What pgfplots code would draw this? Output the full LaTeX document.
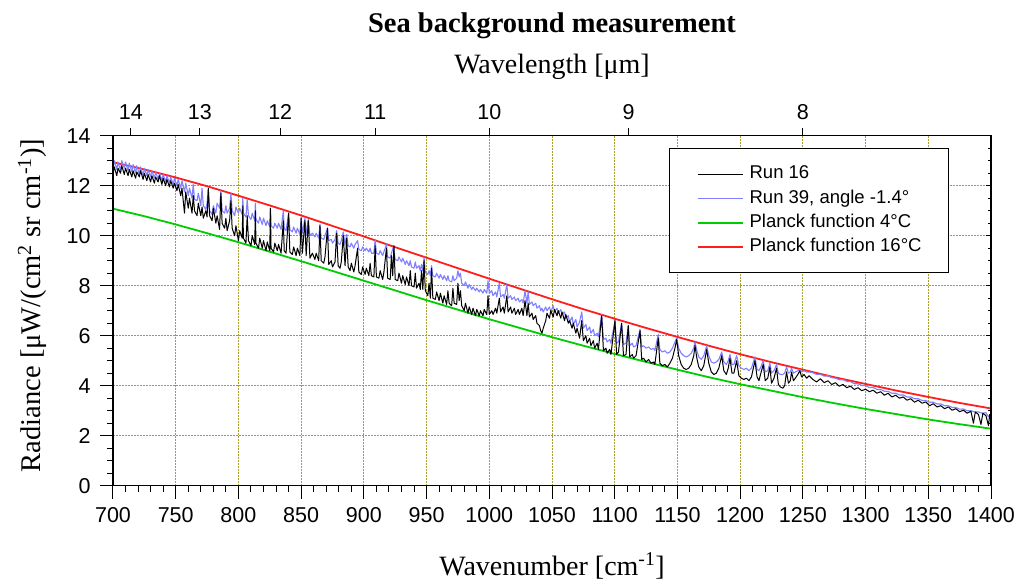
\documentclass[border=0pt]{standalone}
\usepackage{fontspec}
\setmainfont{Liberation Serif}
\newfontfamily\arial{Liberation Sans}
\usepackage{pgfplots}
\usepackage{pgfplotstable}
\pgfplotsset{compat=1.18}

\definecolor{runblue}{RGB}{128,128,255}
\definecolor{planckgreen}{RGB}{0,204,0}
\definecolor{planckred}{RGB}{255,30,30}
\definecolor{gridolive}{RGB}{165,160,45}

% Planck radiance at 4 C and 16 C, uW/(cm^2 sr cm^-1)
\pgfplotstableread{
nu rad
700 11.08
725 10.78
750 10.45
775 10.10
800 9.74
825 9.36
850 8.98
875 8.59
900 8.20
925 7.81
950 7.42
975 7.04
1000 6.66
1025 6.30
1050 5.94
1075 5.60
1100 5.27
1125 4.95
1150 4.64
1175 4.34
1200 4.06
1225 3.80
1250 3.54
1275 3.30
1300 3.07
1325 2.86
1350 2.65
1375 2.46
1400 2.28
}\planckfour

\pgfplotstableread{
nu rad
700 12.94
725 12.65
750 12.33
775 11.98
800 11.60
825 11.21
850 10.81
875 10.39
900 9.97
925 9.54
950 9.12
975 8.70
1000 8.28
1025 7.87
1050 7.46
1075 7.06
1100 6.68
1125 6.31
1150 5.95
1175 5.60
1200 5.26
1225 4.94
1250 4.64
1275 4.34
1300 4.07
1325 3.80
1350 3.55
1375 3.31
1400 3.09
}\planckSixteen

% Run 16
\pgfplotstableread{
nu rad
700 12.45
701 12.75
703 12.4
704 12.7
706 12.5
707 12.8
709 12.45
710 12.7
712 12.4
713 12.65
715 12.35
716 12.6
718 12.3
719 12.55
721 12.35
722 12.6
724 12.25
725 12.5
727 12.2
728 12.45
730 12.15
731 12.4
733 12.1
734 12.35
736 12.15
737 12.4
739 12.05
740 12.3
742 12.0
743 12.25
745 11.95
746 12.2
748 11.9
749 12.1
751 11.8
752 12.05
754 11.6
755 11.9
757 10.9
758 11.75
760 11.1
761 11.5
763 10.9
764 11.6
765 11.0
767 10.8
768 11.3
770 10.8
771 11.15
772 10.7
774 11.0
775 10.75
776 11.9
777 10.8
779 10.6
780 11.1
782 10.5
783 10.8
785 10.25
786 11.7
787 10.5
789 10.3
790 10.7
791 10.2
793 10.6
794 11.4
795 10.3
797 10.0
798 10.4
800 9.8
801 10.2
803 9.9
803.5 11.2
804 9.9
806 9.7
807 10.8
808 9.8
810 9.6
811 10.0
813 9.65
813.5 11.0
814 9.7
816 9.5
817 9.9
819 9.5
820 9.8
822 9.4
823 9.75
825 9.4
825.5 11.1
826 9.5
828 9.35
829 9.7
831 9.4
832 9.65
834 9.3
835.8 10.6
836.5 9.4
838 9.3
840 10.9
841 9.35
843 9.25
844 9.55
846 9.2
847 9.5
849 9.2
850 10.7
851 9.3
853 10.6
854 9.2
855.7 10.6
857 9.1
859 9.3
861 9.05
862 9.3
864 9.0
865 10.4
866 9.0
868 8.9
869 9.15
871 10.3
872 8.85
874 9.0
875 8.75
877 8.95
878.3 10.1
879.5 8.8
881 8.7
882 8.95
883.6 10.0
885 8.8
886.3 9.9
887.5 8.75
889 8.6
890 8.9
892 8.55
893 8.8
895 9.5
896 8.55
898 8.45
899 8.75
901 8.45
902 8.7
904 8.4
905 8.9
906 8.4
908 8.35
909 9.6
910 8.35
912 8.3
913 8.6
915 8.25
916 8.55
918 9.5
919 8.3
921 8.25
922 9.2
923 8.4
924 9.6
925 8.25
927 8.2
928 8.5
930 8.1
931 8.4
933 8.05
934 8.35
936 8.0
937 8.6
938 8.0
940 7.95
941 8.5
942 7.9
944 8.1
945 7.85
946 8.6
947 7.85
948 9.0
949 7.8
951 7.6
952 8.1
953 7.5
954 8.7
955 7.5
957 7.45
958 7.75
960 7.4
961 7.7
963 7.3
964 7.6
966 7.25
967 7.8
968 7.3
970 7.2
971 7.9
972 7.3
974 7.25
975 8.1
976 7.4
977 7.8
978 7.2
980 7.0
981 7.3
983 6.9
984 7.15
986 6.85
987 7.1
989 6.8
990 7.05
992 6.8
993 7.0
995 6.8
996 7.05
998 6.85
999 7.6
1000 6.85
1002 7.0
1003 6.85
1005 7.1
1006 6.9
1008 7.5
1009 6.95
1011 7.15
1012 6.9
1014 7.6
1015 6.95
1017 7.15
1018 6.9
1020 7.1
1021 6.85
1023 7.05
1024 6.85
1026 7.1
1027 6.8
1028.5 7.4
1030 6.8
1031 7.3
1032 6.75
1034 6.9
1035 6.65
1037 6.8
1038 6.5
1040 6.4
1041 6.2
1042 6.1
1043 6.3
1045 6.6
1046 6.9
1048 6.7
1049 7.0
1051 6.75
1052 7.05
1054 6.8
1055 7.0
1057 6.7
1058 6.95
1060 6.6
1061 6.85
1063 6.5
1064 6.6
1066 6.3
1067 6.5
1069 6.1
1070 6.3
1072 5.9
1073.7 6.6
1075 5.8
1077 6.0
1078 5.7
1080 5.9
1081 5.6
1083 5.8
1084 5.5
1086 5.7
1087 5.45
1089.6 6.8
1091 5.4
1093 5.5
1094 5.3
1096 5.45
1097 5.25
1100.2 6.6
1101.5 5.25
1103 5.35
1105.5 6.5
1107 5.2
1109 5.25
1110.8 6.4
1112 5.15
1114 5.25
1115 5.1
1117 5.2
1120.2 6.2
1121.5 5.05
1123 5.1
1125 4.95
1127 5.05
1129 4.9
1131 4.95
1132 4.85
1134.7 5.9
1136 4.9
1138 4.8
1140 4.85
1142 4.75
1144 4.9
1146 5.1
1148 5.5
1149.4 5.85
1151 5.2
1153 4.85
1155 4.7
1157 4.65
1159 4.7
1161 4.85
1163 5.2
1164 5.6
1165.5 5.1
1167 4.75
1169 4.6
1171 4.8
1173.3 5.45
1175 4.9
1177 4.55
1179 4.45
1181 4.5
1183 4.7
1185.3 5.2
1187 4.6
1189 4.45
1190.5 4.7
1191.9 5.1
1193.5 4.5
1195 4.5
1197.2 5.0
1199 4.4
1201 4.3
1203 4.25
1205 4.3
1207 4.2
1209 4.35
1211.8 5.0
1213.5 4.35
1215 4.2
1216.5 4.5
1218.4 4.85
1220 4.2
1222 4.3
1223.7 4.75
1225 4.1
1227 4.3
1229 4.7
1230.5 4.05
1232 3.95
1234 3.9
1235.5 4.0
1237 4.55
1238.5 4.1
1240 4.2
1241 4.55
1242.5 4.2
1244 4.3
1246 4.45
1247.6 4.6
1249 4.35
1251 4.45
1253 4.3
1255 4.4
1258 4.25
1261 4.15
1264 4.28
1267 4.12
1270 4.2
1273 4.05
1276 4.12
1279 3.98
1282 4.05
1285 3.92
1288 3.98
1291 3.85
1294 3.92
1297 3.8
1300 3.86
1303 3.76
1306 3.82
1309 3.7
1312 3.76
1315 3.62
1318 3.7
1321 3.55
1324 3.62
1327 3.5
1330 3.55
1333 3.42
1336 3.48
1339 3.34
1342 3.42
1345 3.3
1348 3.35
1351 3.2
1354 3.28
1357 3.15
1360 3.2
1363 3.08
1366 3.15
1369 3.02
1372 3.08
1375 2.96
1378 3.02
1381 2.9
1384 2.98
1386 2.5
1387.5 2.95
1390 2.85
1392 2.45
1393.5 2.9
1396 2.8
1398 2.4
1399 2.85
1400 2.75
}\runsixteen

% Run 39, angle -1.4 deg
\pgfplotstableread{
nu rad
700 12.7
701 13.0
703 12.65
704 12.95
706 12.6
707 13.0
709 12.7
710 12.95
712 12.6
713 12.9
715 12.55
716 12.85
718 12.5
719 12.8
721 12.45
722 12.75
724 12.4
725 12.7
727 12.4
728 12.65
730 12.35
731 12.6
733 12.3
734 12.55
736 12.25
737 12.5
739 12.2
740 12.45
742 12.15
743 12.4
745 12.1
746 12.35
748 12.05
749 12.3
751 12.0
752 12.25
754 11.9
755 12.2
757 11.75
758 12.1
760 11.6
761 11.9
763 11.5
764 12.05
765 11.45
767 11.4
768 11.7
770 11.2
771 11.9
772 11.2
774 11.05
775 11.3
776 11.85
777 11.0
779 10.85
780 11.2
782 10.9
783 11.3
785 11.1
786 11.8
787 11.0
789 10.9
790 11.2
791 10.9
793 11.1
794 11.7
795 11.0
797 10.8
798 11.15
800 10.9
801 11.1
803 10.85
803.5 11.5
804 10.9
806 10.75
807 11.45
808 10.8
810 10.65
811 10.9
813 10.6
813.5 11.3
814 10.65
816 10.5
817 10.75
819 10.45
820 10.7
822 10.4
823 10.6
825 10.35
825.5 11.1
826 10.4
828 10.3
829 10.5
831 10.3
832 10.5
834 10.25
835.8 11.0
836.5 10.3
838 10.2
840 10.9
841 10.25
843 10.15
844 10.35
846 10.1
847 10.3
849 10.05
850 10.75
851 10.1
853 10.7
854 10.05
855.7 10.65
857 10.0
859 10.1
861 9.95
862 10.1
864 9.9
865 10.45
866 9.9
868 9.85
869 10.0
871 10.3
872 9.8
874 9.85
875 9.7
877 9.85
878.3 10.2
879.5 9.7
881 9.65
882 9.8
883.6 10.15
885 9.65
886.3 10.05
887.5 9.6
889 9.55
890 9.7
892 9.5
893 9.65
895 9.8
896 9.45
898 9.4
899 9.55
901 9.4
902 9.5
904 9.35
905 9.5
906 9.3
908 9.3
909 9.85
910 9.3
912 9.25
913 9.4
915 9.2
916 9.35
918 9.65
919 9.15
921 9.1
922 9.3
923.5 9.55
925 9.05
927 9.0
928 9.15
930 8.95
931 9.1
933 8.85
934 9.0
936 8.8
937 9.0
938 8.75
940 8.7
941 8.95
942 8.7
944 8.8
945 8.6
946 8.85
947 8.6
948 9.15
949 8.55
951 8.45
952 8.6
953 8.4
954 8.8
955 8.4
957 8.35
958 8.5
960 8.3
961 8.45
963 8.25
964 8.4
966 8.2
967 8.4
968 8.2
970 8.15
971 8.4
972 8.2
974 8.3
975 8.6
976 8.35
977 8.5
978 8.1
980 8.0
981 8.15
983 7.9
984 8.05
986 7.85
987 7.95
989 7.8
990 7.9
992 7.75
993 7.85
995 7.7
996 7.85
998 7.7
999 8.2
1000 7.7
1002 7.8
1003 7.6
1005 7.75
1006 7.55
1008 8.1
1009 7.55
1011 7.65
1012 7.5
1014 8.05
1015 7.5
1017 7.6
1018 7.45
1020 7.55
1021 7.4
1023 7.5
1024 7.35
1026 7.45
1027 7.3
1028.5 7.8
1030 7.3
1031 7.75
1032 7.25
1034 7.35
1035 7.2
1037 7.3
1038 7.1
1040 7.2
1041 7.0
1042 7.1
1043 6.95
1045 7.15
1046 7.0
1048 7.15
1049 6.95
1051 7.2
1052 6.95
1054 7.1
1055 6.9
1057 7.05
1058 6.85
1060 6.95
1061 6.7
1063 6.8
1064 6.55
1066 6.75
1067 6.45
1069 6.65
1070 6.35
1072 6.55
1073.7 6.95
1075 6.3
1077 6.45
1078 6.2
1080 6.35
1081 6.1
1083 6.25
1084 6.0
1086 6.1
1087 5.95
1089.6 6.85
1091 5.85
1093 5.9
1094 5.75
1096 5.85
1097 5.7
1100.2 6.6
1101.5 5.7
1103 5.75
1105.5 6.5
1107 5.65
1109 5.7
1110.8 6.4
1112 5.6
1114 5.7
1115 5.55
1117 5.6
1120.2 6.25
1121.5 5.55
1123 5.6
1125 5.5
1127 5.55
1129 5.45
1131 5.5
1132 5.4
1134.7 6.05
1136 5.45
1138 5.35
1140 5.4
1142 5.3
1144 5.35
1146 5.5
1148 5.75
1149.4 5.9
1151 5.5
1153 5.3
1155 5.2
1157 5.15
1159 5.2
1161 5.3
1163 5.5
1164 5.75
1165.5 5.4
1167 5.15
1169 5.05
1171 5.2
1173.3 5.6
1175 5.2
1177 4.95
1179 4.9
1181 4.95
1183 5.05
1185.3 5.35
1187 4.95
1189 4.85
1190.5 5.0
1191.9 5.25
1193.5 4.85
1195 4.85
1197.2 5.2
1199 4.8
1201 4.7
1203 4.65
1205 4.7
1207 4.6
1209 4.7
1211.8 5.15
1213.5 4.65
1215 4.6
1216.5 4.75
1218.4 5.0
1220 4.55
1222 4.6
1223.7 4.9
1225 4.5
1227 4.6
1229 4.85
1230.5 4.5
1232 4.45
1234 4.45
1235.5 4.5
1237 4.75
1238.5 4.5
1240 4.55
1241 4.7
1242.5 4.5
1244 4.55
1246 4.6
1247.6 4.65
1249 4.55
1251 4.6
1253 4.55
1255 4.55
1258 4.52
1261 4.45
1264 4.46
1267 4.38
1270 4.4
1273 4.32
1276 4.3
1279 4.24
1282 4.24
1285 4.17
1288 4.16
1291 4.08
1294 4.08
1297 4.01
1300 4.0
1303 3.93
1306 3.93
1309 3.85
1312 3.85
1315 3.78
1318 3.77
1321 3.7
1324 3.7
1327 3.63
1330 3.63
1333 3.55
1336 3.55
1339 3.48
1342 3.48
1345 3.41
1348 3.41
1351 3.34
1354 3.34
1357 3.27
1360 3.27
1363 3.2
1366 3.2
1369 3.13
1372 3.13
1375 3.06
1378 3.07
1381 3.0
1384 3.0
1387 2.95
1390 2.95
1393 2.9
1396 2.92
1398 2.75
1400 2.88
}\runthirtynine

\pgfplotsset{
  frame/.style={
    scale only axis, width=878pt, height=350pt,
    xmin=700, xmax=1400, ymin=0, ymax=14,
    axis line style={line width=1.1pt},
    tick style={black, line width=1pt},
    tick label style={font=\arial\fontsize{21.5}{21.5}\selectfont},
    /pgf/number format/assume math mode=true,
    /pgf/number format/1000 sep={},
  },
}

\begin{document}
\begin{tikzpicture}
\useasboundingbox (-113pt,-101.3pt) rectangle (906pt,485.7pt);

% wavenumber axis with the spectra
\begin{axis}[frame,
  xtick={700,750,...,1400}, ytick={0,2,...,14},
  minor x tick num=4, minor y tick num=3,
  tick pos=left, tick align=outside,
  major tick length=13pt, minor tick length=6pt,
  xticklabel style={yshift=-5pt},
  yticklabel style={xshift=-6pt},
  grid=major,
  major grid style={gridolive, line width=1pt, dash pattern=on 1.6pt off 1.4pt},
  title={Sea background measurement},
  title style={at={(axis description cs:0.5,1)}, anchor=base, yshift=97pt,
    font=\fontsize{28.5}{30}\selectfont\bfseries},
  xlabel={Wavenumber [cm\textsuperscript{-1}]},
  xlabel style={at={(axis description cs:0.5,0)}, anchor=base, yshift=-89.3pt,
    font=\fontsize{28}{30}\selectfont},
  ylabel={Radiance [μW/(cm\textsuperscript{2} sr cm\textsuperscript{-1})]},
  ylabel style={at={(axis description cs:-0.083,0.515)}, anchor=base,
    font=\fontsize{28.5}{30}\selectfont},
  legend cell align=left,
  legend image code/.code={\draw[#1] (0pt,0pt) -- (45pt,0pt);},
  legend style={at={(axis description cs:0.6336,0.964)}, anchor=north west,
    draw=black, line width=1pt, fill=white,
    font=\arial\fontsize{18.5}{18.5}\selectfont,
    inner xsep=27pt, inner ysep=17pt, row sep=7.3pt, column sep=6pt,
    nodes={inner sep=0pt, text height=13pt, text depth=4pt}},
]
\addlegendimage{black, line width=0.8pt}
\addlegendentry{Run 16}
\addlegendimage{runblue, line width=0.8pt}
\addlegendentry{Run 39, angle -1.4°}
\addlegendimage{planckgreen, line width=1.8pt}
\addlegendentry{Planck function 4°C}
\addlegendimage{planckred, line width=1.8pt}
\addlegendentry{Planck function 16°C}

\addplot[planckgreen, line width=1.8pt, forget plot] table[x=nu, y=rad] {\planckfour};
\addplot[planckred, line width=1.8pt, forget plot] table[x=nu, y=rad] {\planckSixteen};
\addplot[runblue, line width=1.1pt, line join=round, forget plot] table[x=nu, y=rad] {\runthirtynine};
\addplot[black, line width=1pt, line join=round, forget plot] table[x=nu, y=rad] {\runsixteen};
\end{axis}

% wavelength scale along the top
\begin{axis}[frame,
  axis line style={draw=none},
  hide y axis,
  xtick pos=right, tick align=outside,
  major tick length=7.7pt,
  xticklabel style={yshift=5pt},
  xtick={714.2857,769.2308,833.3333,909.0909,1000,1111.1111,1250},
  xticklabels={14,13,12,11,10,9,8},
  xlabel={Wavelength [μm]},
  xlabel style={at={(axis description cs:0.5,1)}, anchor=base, yshift=62.4pt,
    font=\fontsize{28}{30}\selectfont},
]
\addplot[draw=none, forget plot] coordinates {(700,0) (1400,14)};
\end{axis}

% inner ticks on the right edge
\begin{axis}[frame,
  hide x axis,
  ytick pos=right, tick align=inside,
  ytick={0,2,...,14}, minor y tick num=3,
  major tick length=5pt, minor tick length=3.5pt,
  yticklabels={},
]
\addplot[draw=none, forget plot] coordinates {(700,0) (1400,14)};
\end{axis}
\end{tikzpicture}
\end{document}
